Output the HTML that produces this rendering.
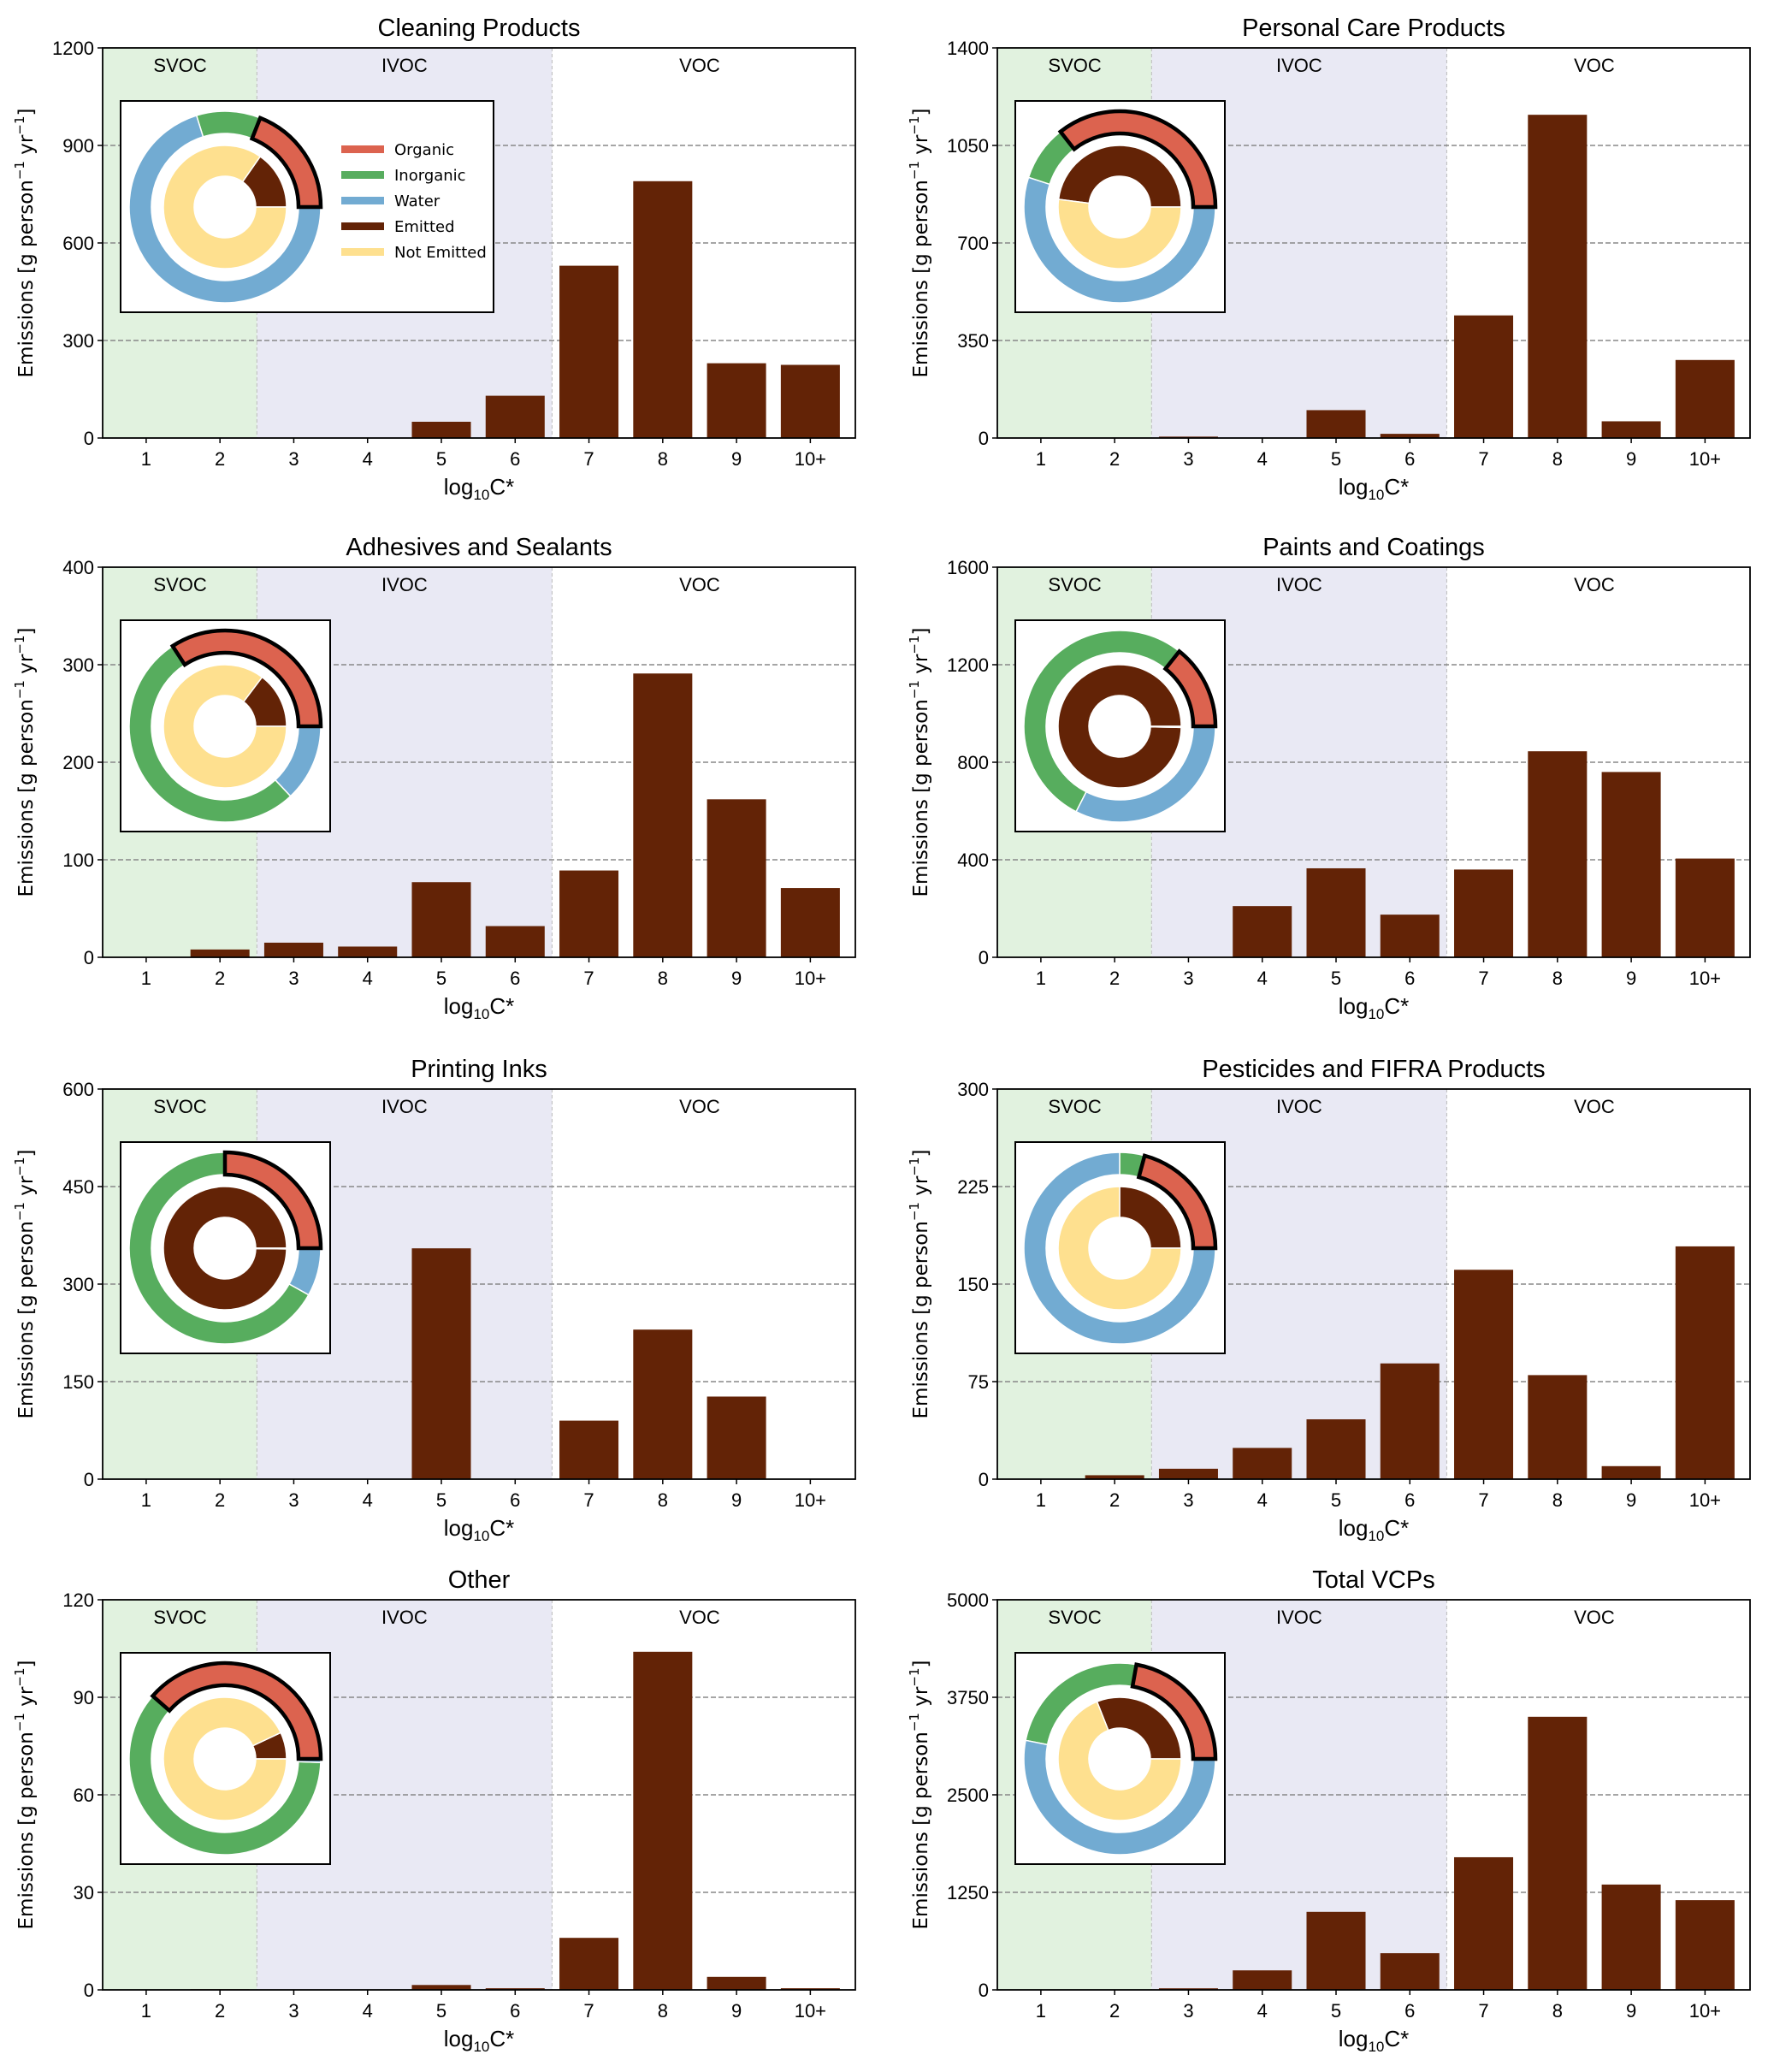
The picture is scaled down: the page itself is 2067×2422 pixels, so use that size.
<!DOCTYPE html>
<html><head><meta charset="utf-8"><style>
body{margin:0;background:#fff}
svg{display:block}
text{font-family:"Liberation Sans","DejaVu Sans",sans-serif;fill:#000}
</style></head><body>
<svg id="fig" xmlns="http://www.w3.org/2000/svg" width="2067" height="2422" viewBox="0 0 2067 2422"></svg>
<script>
const titles=["Cleaning Products","Personal Care Products","Adhesives and Sealants","Paints and Coatings","Printing Inks","Pesticides and FIFRA Products","Other","Total VCPs"];
const categories=["1","2","3","4","5","6","7","8","9","10+"];
const yMaxes=[1200,1400,400,1600,600,300,120,5000];
const yTicks0=[0,300,600,900,1200];
const yTicks1=[0,350,700,1050,1400];
const yTicks2=[0,100,200,300,400];
const yTicks3=[0,400,800,1200,1600];
const yTicks4=[0,150,300,450,600];
const yTicks5=[0,75,150,225,300];
const yTicks6=[0,30,60,90,120];
const yTicks7=[0,1250,2500,3750,5000];
const vals0=[0,0,0,0,50,130,530,790,230,225];
const vals1=[0,0,5,0,100,15,440,1160,60,280];
const vals2=[0,8,15,11,77,32,89,291,162,71];
const vals3=[0,0,0,210,365,175,360,845,760,405];
const vals4=[0,0,0,0,355,0,90,230,127,0];
const vals5=[0,3,8,24,46,89,161,80,10,179];
const vals6=[0,0.2,0,0,1.5,0.5,16,104,4,0.5];
const vals7=[0,5,20,250,1000,470,1700,3500,1350,1150];
const organicFrac=[0.19,0.356,0.342,0.143,0.25,0.208,0.386,0.222];
const inorganicFrac=[0.108,0.094,0.528,0.532,0.669,0.042,0.608,0.247];
const emittedFrac=[0.153,0.48,0.147,0.997,0.998,0.25,0.07,0.31];
const legendLabels=["Organic","Inorganic","Water","Emitted","Not Emitted"];

const allTicks=[yTicks0,yTicks1,yTicks2,yTicks3,yTicks4,yTicks5,yTicks6,yTicks7];
const allVals=[vals0,vals1,vals2,vals3,vals4,vals5,vals6,vals7];
const C={org:"#dc634f",inorg:"#57ad5e",water:"#72abd2",emit:"#632306",notemit:"#fee08f"};
const svg=document.getElementById('fig');
const NS="http://www.w3.org/2000/svg";
function mk(tag,attrs,parent){const e=document.createElementNS(NS,tag);for(const k in attrs)e.setAttribute(k,attrs[k]);(parent||svg).appendChild(e);return e;}
function arc(cx,cy,r0,r1,a0,a1){
  const p=(r,a)=>[cx+r*Math.cos(a*Math.PI/180),cy-r*Math.sin(a*Math.PI/180)];
  const large=(a1-a0)>180?1:0;
  const [x1,y1]=p(r1,a0),[x2,y2]=p(r1,a1),[x3,y3]=p(r0,a1),[x4,y4]=p(r0,a0);
  return `M${x1},${y1} A${r1},${r1} 0 ${large} 0 ${x2},${y2} L${x3},${y3} A${r0},${r0} 0 ${large} 1 ${x4},${y4} Z`;
}
const colX=[120,1166], rowY=[56,663,1273,1870], W=880, H=456;
const XL=0.41, XR=10.61;
for(let i=0;i<8;i++){
  const x0=colX[i%2], y0=rowY[Math.floor(i/2)];
  const g=mk('g',{});
  
  
  const ymax=yMaxes[i];
  const xs=v=>x0+(v-XL)/(XR-XL)*W;
  const ys=v=>y0+H-v/ymax*H;
  const sv=mk('rect',{x:x0,y:y0,width:xs(2.5)-x0,height:H,fill:"#e1f2df"},g);
  
  const iv=mk('rect',{x:xs(2.5),y:y0,width:xs(6.5)-xs(2.5),height:H,fill:"#e9e9f4"},g);
  
  [2.5,6.5].forEach(v=>mk('line',{x1:xs(v),x2:xs(v),y1:y0,y2:y0+H,stroke:"#bbb","stroke-width":1,"stroke-dasharray":"4,3"},g));
  [["SVOC",1.46],["IVOC",4.5],["VOC",8.5]].forEach(([t,v])=>{const e=mk('text',{x:xs(v),y:y0+28,"text-anchor":"middle","font-size":22},g);e.textContent=t;
    });
  const tk=allTicks[i];
  tk.forEach(t=>{
    const y=ys(t);
    if(t>0&&t<ymax) mk('line',{x1:x0,x2:x0+W,y1:y,y2:y,stroke:"#888","stroke-width":1.6,"stroke-dasharray":"6,3"},g);
    mk('line',{x1:x0-6,x2:x0,y1:y,y2:y,stroke:"#000","stroke-width":1.5},g);
    const e=mk('text',{x:x0-10,y:y+8,"text-anchor":"end","font-size":22},g);e.textContent=t;
    
  });
  allVals[i].forEach((v,k)=>{
    const c=k+1;
    const b=mk('rect',{x:xs(c-0.4),y:ys(v),width:xs(c+0.4)-xs(c-0.4),height:ys(0)-ys(v),fill:"#632306"},g);
    
  });
  categories.forEach((c,k)=>{
    const x=xs(k+1);
    mk('line',{x1:x,x2:x,y1:y0+H,y2:y0+H+6,stroke:"#000","stroke-width":1.5},g);
    const e=mk('text',{x:x,y:y0+H+32,"text-anchor":"middle","font-size":22},g);e.textContent=c;
    
  });
  mk('rect',{x:x0,y:y0,width:W,height:H,fill:"none",stroke:"#000","stroke-width":1.8},g);
  const ti=mk('text',{x:x0+W/2,y:y0-14,"text-anchor":"middle","font-size":29},g);ti.textContent=titles[i];
  
  const xl=mk('text',{x:x0+W/2,y:y0+H+66,"text-anchor":"middle","font-size":26},g);
  xl.innerHTML='log<tspan font-size="17" dy="6">10</tspan><tspan dy="-6">C*</tspan>';
  
  const yl=mk('text',{x:0,y:0,"text-anchor":"middle","font-size":23,transform:`translate(${x0-82},${y0+H/2}) rotate(-90)`,style:'font-family:"DejaVu Sans",sans-serif'},g);
  yl.innerHTML='Emissions [g person<tspan font-size="15" dy="-10">−1</tspan><tspan dy="10"> yr</tspan><tspan font-size="15" dy="-10">−1</tspan><tspan dy="10">]</tspan>';
  
  const iw=i===0?436:245, ih=247, ix=x0+21, iy=y0+62;
  const inset=mk('rect',{x:ix,y:iy,width:iw,height:ih,fill:"#fff",stroke:"#000","stroke-width":2},g);
  
  const cx=ix+122, cy=iy+124;
  const o=organicFrac[i]*360, n=inorganicFrac[i]*360;
  const outer=[[0,o,C.org,'organic'],[o,o+n,C.inorg,'inorganic'],[o+n,360,C.water,'water']];
  outer.slice(1).forEach(([a0,a1,col,nm])=>{const p=mk('path',{d:arc(cx,cy,86,112,a0,a1),fill:col,stroke:"#fff","stroke-width":1.5},g);
    });
  const e=emittedFrac[i]*360;
  [[0,e,C.emit,'emitted'],[e,360,C.notemit,'not-emitted']].forEach(([a0,a1,col,nm])=>{const p=mk('path',{d:arc(cx,cy,36,72,a0,Math.min(a1,359.99)),fill:col,stroke:"#fff","stroke-width":1.5},g);
    });
  const po=mk('path',{d:arc(cx,cy,86,112,0,o),fill:C.org,stroke:"#000","stroke-width":4.5,"stroke-linejoin":"miter"},g);
  
  if(i===0){
    const cols=[C.org,C.inorg,C.water,C.emit,C.notemit];
    legendLabels.forEach((l,k)=>{
      const ly=iy+57+k*30;
      const r=mk('rect',{x:ix+258,y:ly-5,width:50,height:9,fill:cols[k]},g);
      
      const t=mk('text',{x:ix+320,y:ly+6,"font-size":18,style:'font-family:"DejaVu Sans",sans-serif'},g);t.textContent=l;
      
    });
  }
}
</script>
</body></html>
